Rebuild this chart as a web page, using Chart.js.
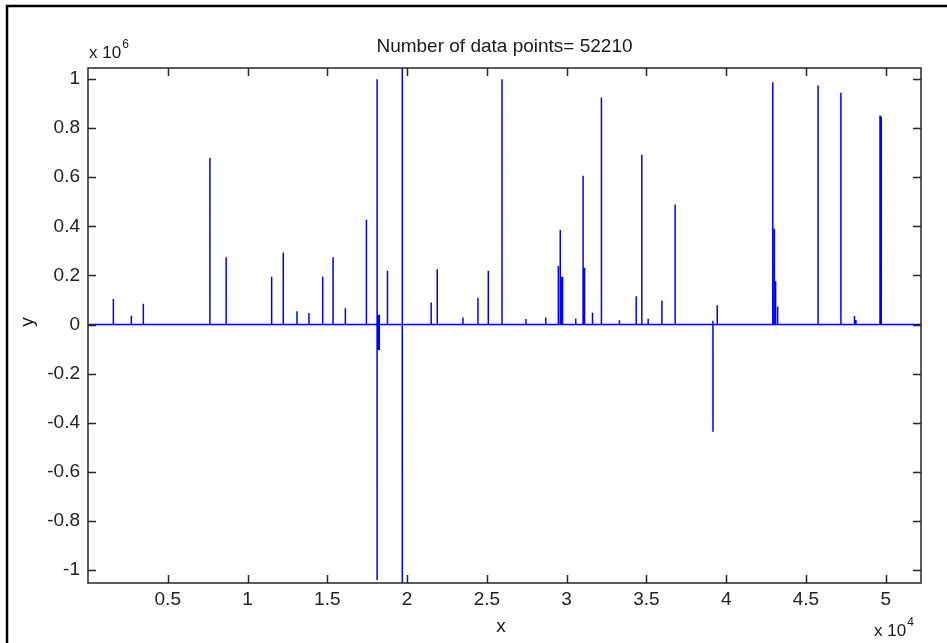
<!DOCTYPE html>
<html>
<head>
<meta charset="utf-8">
<script src="https://cdn.jsdelivr.net/npm/chart.js@4/dist/chart.umd.min.js"></script>
<style>
  html, body { margin: 0; padding: 0; background: #fff; }
</style>
</head>
<body>
<canvas id="chart" width="947" height="643"></canvas>
<script>
// Data (x = sample index, y = value)
const nPoints = 52210;

const spikeX = [1590, 2720, 3470, 7640, 8660, 11510, 12240, 13100, 13850, 14710,
  15360, 16130, 17450, 18120, 18121, 18210, 18211, 18260, 18261, 18770,
  19700, 19701, 21510, 21890, 23500, 24440, 25090, 25950, 27450, 28690,
  29480, 29600, 29680, 29720, 29760, 30570, 31030, 31100, 31140, 31620,
  32180, 33310, 34360, 34710, 35110, 35970, 36800, 39170, 39171, 39440,
  42920, 43000, 43060, 43110, 43200, 43240, 45760, 47190, 48040, 48130,
  49640, 49680, 49720];

const spikeY = [104000, 36000, 85000, 679000, 274000, 195000, 293000, 54000, 47000, 195000,
  274000, 66000, 427000, 999000, -1041000, 40000, -104000, 40000, -104000, 219000,
  1045000, -1053000, 90000, 225000, 29000, 109000, 219000, 999000, 22000, 29000,
  238000, 385000, 195000, 195000, 195000, 24000, 606000, 231000, 231000, 48000,
  925000, 17000, 115000, 692000, 24000, 98000, 489000, 15000, -437000, 78000,
  987000, 390000, 177000, 177000, 73000, 73000, 974000, 944000, 35000, 18000,
  852000, 848000, 845000];

const xTickValues = [5000, 10000, 15000, 20000, 25000, 30000, 35000, 40000, 45000, 50000];
const xTickLabels = ['0.5', '1', '1.5', '2', '2.5', '3', '3.5', '4', '4.5', '5'];
const yTickValues = [-1000000, -800000, -600000, -400000, -200000, 0, 200000, 400000, 600000, 800000, 1000000];
const yTickLabels = ['-1', '-0.8', '-0.6', '-0.4', '-0.2', '0', '0.2', '0.4', '0.6', '0.8', '1'];
const yMin = -1053000;
const yMax = 1045000;

const FONT = '"Liberation Sans", Arial, Helvetica, sans-serif';

// baseline is zero everywhere except at the spikes
const spikeMap = new Map(spikeX.map((x, i) => [x, spikeY[i]]));
const points = [{ x: 1, y: 0 }];
spikeX.forEach((x, i) => {
  if (!spikeMap.has(x - 1)) points.push({ x: x - 1, y: 0 });
  points.push({ x: x, y: spikeY[i] });
  if (!spikeMap.has(x + 1)) points.push({ x: x + 1, y: 0 });
});
points.push({ x: nPoints, y: 0 });

// "x 10" with a small raised exponent
function drawExponent(c, x, y, exp) {
  c.font = '17px ' + FONT;
  c.textAlign = 'left';
  c.fillText('x 10', x, y);
  const w = c.measureText('x 10').width;
  c.font = '12px ' + FONT;
  c.fillText(exp, x + w + 1, y - 10);
}

// Matlab style box, inward ticks, title and labels
const matlabBox = {
  id: 'matlabBox',
  beforeDraw(chart) {
    const c = chart.ctx;
    c.save();
    c.fillStyle = '#fff';
    c.fillRect(0, 0, chart.width, chart.height);
    c.strokeStyle = '#000';
    c.lineWidth = 2.5;
    c.beginPath();
    c.moveTo(7, chart.height + 2);
    c.lineTo(7, 6);
    c.lineTo(chart.width + 2, 6);
    c.stroke();
    c.restore();
  },
  afterDraw(chart) {
    const { ctx, chartArea: a, scales } = chart;
    const xs = scales.x, ys = scales.y;
    const tl = 8;
    ctx.save();
    ctx.strokeStyle = '#262626';
    ctx.lineWidth = 1.5;
    ctx.strokeRect(a.left, a.top, a.right - a.left, a.bottom - a.top);
    ctx.beginPath();
    xTickValues.forEach(v => {
      const px = Math.round(xs.getPixelForValue(v)) + 0.5;
      ctx.moveTo(px, a.bottom); ctx.lineTo(px, a.bottom - tl);
      ctx.moveTo(px, a.top); ctx.lineTo(px, a.top + tl);
    });
    yTickValues.forEach(v => {
      const py = Math.round(ys.getPixelForValue(v)) + 0.5;
      ctx.moveTo(a.left, py); ctx.lineTo(a.left + tl, py);
      ctx.moveTo(a.right, py); ctx.lineTo(a.right - tl, py);
    });
    ctx.stroke();

    ctx.fillStyle = '#1a1a1a';
    ctx.textBaseline = 'alphabetic';

    // title
    ctx.font = '19px ' + FONT;
    ctx.textAlign = 'center';
    ctx.fillText('Number of data points= ' + nPoints, (a.left + a.right) / 2, 51.5);

    // axis labels
    ctx.fillText('x', 501, 631.5);
    ctx.save();
    ctx.translate(33, 322);
    ctx.rotate(-Math.PI / 2);
    ctx.fillText('y', 0, 0);
    ctx.restore();

    // exponent labels
    drawExponent(ctx, 89, 57.5, '6');
    drawExponent(ctx, 874, 635.5, '4');
    ctx.restore();
  }
};

const ctx = document.getElementById('chart').getContext('2d');
new Chart(ctx, {
  type: 'line',
  data: {
    datasets: [{
      data: points,
      borderColor: '#0000ff',
      borderWidth: 1.5,
      pointRadius: 0,
      tension: 0,
      fill: false
    }]
  },
  options: {
    responsive: false,
    animation: false,
    events: [],
    layout: { padding: { left: 0, top: 68, right: 26, bottom: 0 } },
    plugins: {
      legend: { display: false },
      tooltip: { enabled: false },
      title: { display: false }
    },
    scales: {
      x: {
        type: 'linear',
        min: 1,
        max: nPoints,
        grid: { display: false, drawTicks: false },
        border: { display: false },
        afterBuildTicks: s => { s.ticks = xTickValues.map(v => ({ value: v })); },
        afterFit: s => { s.height = 60; },
        ticks: {
          autoSkip: false,
          maxRotation: 0,
          padding: 5,
          color: '#222',
          font: { family: FONT, size: 19 },
          callback: (v, i) => xTickLabels[i]
        }
      },
      y: {
        type: 'linear',
        min: yMin,
        max: yMax,
        grid: { display: false, drawTicks: false },
        border: { display: false },
        afterBuildTicks: s => { s.ticks = yTickValues.map(v => ({ value: v })); },
        afterFit: s => { s.width = 88; },
        ticks: {
          autoSkip: false,
          padding: 8,
          color: '#222',
          font: { family: FONT, size: 19 },
          callback: (v, i) => yTickLabels[i]
        }
      }
    }
  },
  plugins: [matlabBox]
});
</script>
</body>
</html>
